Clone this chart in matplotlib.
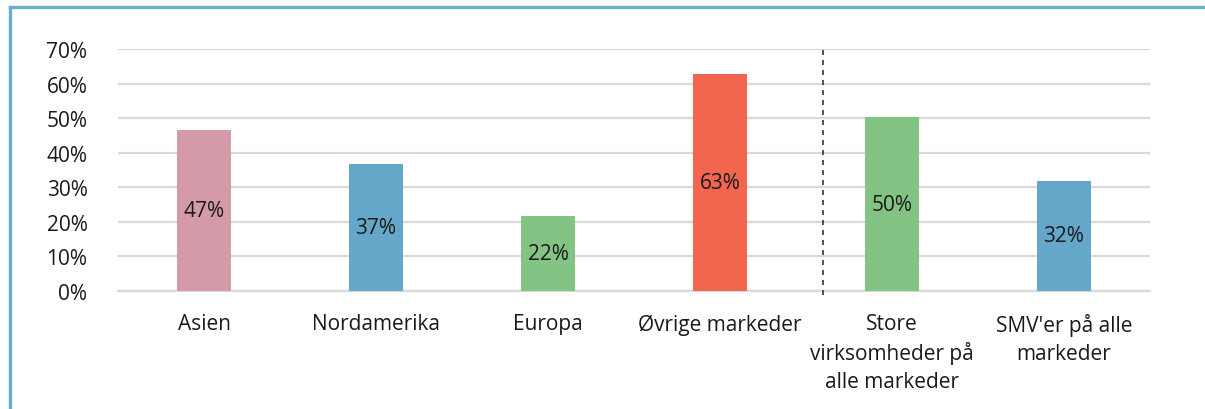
import matplotlib
matplotlib.use("Agg")
import matplotlib.pyplot as plt
from matplotlib.lines import Line2D
import numpy as np

# data
categories = ["Asien", "Nordamerika", "Europa", "Øvrige markeder",
              "Store\nvirksomheder på\nalle markeder", "SMV'er på alle\nmarkeder"]
shares = [0.466, 0.368, 0.218, 0.628, 0.503, 0.319]
bar_colors = ["#d59aa8", "#64a7c8", "#83c384", "#f26650", "#83c384", "#64a7c8"]
yticks = [0.0, 0.1, 0.2, 0.3, 0.4, 0.5, 0.6, 0.7]
divider_pos = 3.6

plt.rcParams["font.family"] = ["Open Sans", "DejaVu Sans"]
plt.rcParams["font.size"] = 15

fig = plt.figure(figsize=(12.05, 4.10), dpi=100)
ax = fig.add_axes([118 / 1205, 1 - 292 / 410, 1032 / 1205, 242 / 410])

x = np.arange(len(categories))
bars = ax.bar(x, shares, width=0.31, color=bar_colors, zorder=3)

for rect, v in zip(bars, shares):
    ax.text(rect.get_x() + rect.get_width() / 2, v / 2, "{:.0%}".format(v),
            ha="center", va="center", color="#1a1a1a", zorder=4)

ax.set_xlim(-0.5, len(categories) - 0.5)
ax.set_ylim(0, 0.7)
ax.set_yticks(yticks)
ax.set_yticklabels(["{:.0%}".format(t) for t in yticks])
ax.set_xticks(x)
ax.set_xticklabels(categories, linespacing=1.4, va="top")
ax.tick_params(axis="both", length=0, colors="#1a1a1a")
ax.tick_params(axis="y", pad=22)
ax.tick_params(axis="x", pad=16)

ax.grid(axis="y", color="#d9d9d9", lw=1.6, zorder=0)
for s in ["top", "right", "left"]:
    ax.spines[s].set_visible(False)
ax.spines["bottom"].set_color("#d9d9d9")
ax.spines["bottom"].set_linewidth(1.6)

# divider between markets and company sizes
ax.plot([divider_pos, divider_pos], [-0.012, 0.7], ls=(0, (3, 3)), color="#333333",
        lw=1.2, clip_on=False, zorder=5)

# outer frame (cut off at right and bottom)
W, H = 1205, 410
fig.add_artist(Line2D([10 / W, 1], [1 - 8 / H, 1 - 8 / H], color="#6aaed0", lw=2.4))
fig.add_artist(Line2D([10 / W, 10 / W], [0, 1 - 8 / H], color="#6aaed0", lw=2.4))

fig.savefig("out.png", dpi=100)
